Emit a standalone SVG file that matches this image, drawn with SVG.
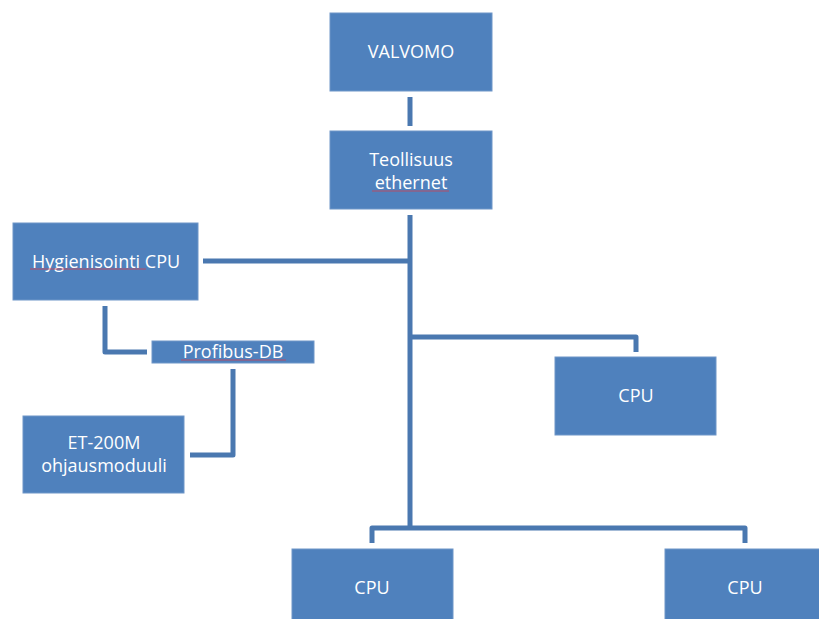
<svg xmlns="http://www.w3.org/2000/svg" width="819" height="619" viewBox="0 0 819 619">
<style>
.box{fill:#4F81BD;stroke:#6f96c8;stroke-width:1}
.lbl{font-family:"Open Sans","Liberation Sans",sans-serif;font-size:18px;fill:#ffffff;text-anchor:middle}
.con{fill:none;stroke:#4A78B0;stroke-width:5;stroke-linejoin:round}
.sp{fill:none;stroke:#d04050;stroke-width:0.8}
</style>
<rect width="819" height="619" fill="#ffffff"/>
<g id="connectors">
<line class="con" x1="410" y1="97" x2="410" y2="126"/>
<line class="con" x1="410" y1="215" x2="410" y2="530"/>
<line class="con" x1="203" y1="261" x2="410" y2="261"/>
<path class="con" d="M410 337 H636 V352"/>
<path class="con" d="M372 543 V528 H745 V543"/>
<path class="con" d="M105 306 V352 H147"/>
<path class="con" d="M233 369 V455 H190"/>
</g>
<g id="valvomo">
<rect class="box" x="330" y="13" width="162" height="78"/>
<text class="lbl" x="411" y="58">VALVOMO</text>
</g>
<g id="teollisuus">
<rect class="box" x="330" y="131" width="162" height="78"/>
<text class="lbl" x="411" y="166">Teollisuus</text>
<text class="lbl" x="411" y="189">ethernet</text>
<line class="sp" x1="372" y1="191" x2="449" y2="191"/>
</g>
<g id="hygienisointi">
<rect class="box" x="13" y="223" width="185" height="77"/>
<text class="lbl" x="106" y="268">Hygienisointi CPU</text>
<line class="sp" x1="30" y1="269" x2="146" y2="269"/>
</g>
<g id="profibus">
<rect class="box" x="152" y="341" width="162" height="22"/>
<text class="lbl" x="233" y="358">Profibus-DB</text>
<line class="sp" x1="181" y1="360" x2="286" y2="360"/>
</g>
<g id="et200m">
<rect class="box" x="23" y="416" width="161" height="77"/>
<text class="lbl" x="104" y="449">ET-200M</text>
<text class="lbl" x="104" y="472">ohjausmoduuli</text>
</g>
<g id="cpu-right">
<rect class="box" x="555" y="357" width="161" height="78"/>
<text class="lbl" x="636" y="402">CPU</text>
</g>
<g id="cpu-bottom-left">
<rect class="box" x="292" y="549" width="161" height="78"/>
<text class="lbl" x="372" y="594">CPU</text>
</g>
<g id="cpu-bottom-right">
<rect class="box" x="665" y="549" width="161" height="78"/>
<text class="lbl" x="745" y="594">CPU</text>
</g>
</svg>
